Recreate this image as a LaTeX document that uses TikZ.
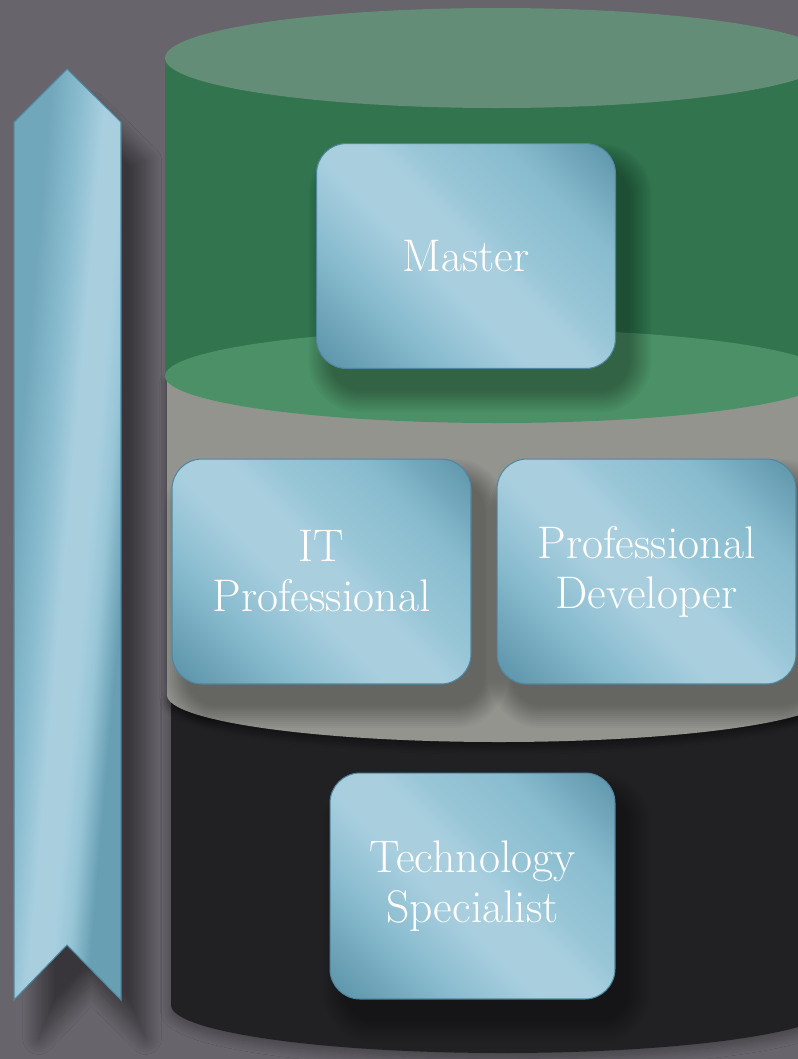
\documentclass[tikz,border=0pt]{standalone}
\usepackage{tikz}
\usetikzlibrary{shadows.blur}

\definecolor{bgcol}{HTML}{67646B}
\definecolor{greentop}{HTML}{648D77}
\definecolor{greenbody}{HTML}{31744E}
\definecolor{greenfloor}{HTML}{4B9066}
\definecolor{graybody}{HTML}{94948F}
\definecolor{blackbody}{HTML}{212124}
\definecolor{tiledark}{HTML}{5E95AA}
\definecolor{tilemid}{HTML}{89BCCF}
\definecolor{tilelight}{HTML}{A9CFDF}
\definecolor{tilestreak}{HTML}{98C6D7}
\definecolor{tileedge}{HTML}{4F87A0}

\pgfdeclarehorizontalshading{tileshade}{100bp}{color(0bp)=(tiledark); color(16bp)=(tiledark); color(32bp)=(tilemid); color(44bp)=(tilelight); color(52bp)=(tilelight); color(58bp)=(tilestreak); color(70bp)=(tilemid); color(85bp)=(tiledark); color(100bp)=(tiledark)}
\pgfdeclarehorizontalshading{ribbonshade}{100bp}{color(0bp)=(tiledark!55!tilemid); color(37bp)=(tiledark!55!tilemid); color(44bp)=(tilemid); color(50bp)=(tilelight); color(55bp)=(tilelight); color(59bp)=(tilestreak); color(64bp)=(tiledark!75!tilemid); color(100bp)=(tiledark!75!tilemid)}

\pgfdeclarelayer{back}
\pgfdeclarelayer{shade}
\pgfsetlayers{back,shade,main}

\begin{document}
\begin{tikzpicture}[x=0.02cm, y=-0.02cm,
  tile/.style={shading=tileshade, shading angle=45, draw=tileedge, line width=0.6pt,
    rounded corners=0.6cm, minimum width=5.98cm, minimum height=4.5cm, outer sep=0pt,
    text=white, align=center, font=\fontsize{26}{28.5}\selectfont}]
\useasboundingbox (0,0) rectangle (798,1059);

\begin{pgfonlayer}{back}
\fill[bgcol] (0,0) rectangle (798,1059);

% ribbon
\fill[black, blur shadow={shadow xshift=14pt, shadow yshift=-22pt, shadow blur radius=9pt,
    shadow blur steps=24, shadow opacity=45}]
  (14,122) -- (67,69) -- (121,122) -- (121,1000) -- (67,945) -- (14,1000) -- cycle;
\begin{scope}
  \clip (14,122) -- (67,69) -- (121,122) -- (121,1000) -- (67,945) -- (14,1000) -- cycle;
  \shade[shading=ribbonshade, transform canvas={rotate around={-5:(67,535)}}]
    (-40,20) rectangle (174,1050);
\end{scope}
\draw[tileedge, line width=0.6pt]
  (14,122) -- (67,69) -- (121,122) -- (121,1000) -- (67,945) -- (14,1000) -- cycle;

% black layer
\fill[blackbody, blur shadow={shadow xshift=0pt, shadow yshift=-3pt, shadow blur radius=6pt,
    shadow blur steps=16, shadow opacity=35}]
  (171,695) -- (171,1005) arc[start angle=180, end angle=360, x radius=332, y radius=-48] -- (835,695) -- cycle;

% gray layer
\fill[graybody, blur shadow={shadow xshift=0pt, shadow yshift=-3pt, shadow blur radius=4pt,
    shadow blur steps=16, shadow opacity=45}]
  (167,376) -- (167,695) arc[start angle=180, end angle=360, x radius=332, y radius=-47] -- (831,376) -- cycle;

% green layer
\fill[greenbody] (165,58) rectangle (829,376);
\fill[greenfloor] (497,376) ellipse [x radius=332, y radius=47];
\fill[greentop] (497,58) ellipse [x radius=332, y radius=50];
\end{pgfonlayer}

% levels
\node[tile] (master) at (466,256) {Master};
\node[tile] (itpro) at (321.5,571.5) {IT\\Professional};
\node[tile] (devpro) at (646.5,571.5) {Professional\\Developer};
\node[tile, minimum width=5.7cm, minimum height=4.52cm] (techspec) at (472.5,886) {Technology\\Specialist};

% soft shadows
\begin{pgfonlayer}{shade}
\foreach \tilename in {master,itpro,devpro,techspec}
  \foreach \k in {0,...,11} {
    \pgfmathsetmacro\rr{0.6+\k*0.04}
    \fill[black, opacity=0.028, rounded corners=\rr cm]
      ([xshift={0.28cm-\k*0.04cm}, yshift={-0.44cm-\k*0.04cm}]\tilename.south west)
      rectangle ([xshift={0.28cm+\k*0.04cm}, yshift={-0.44cm+\k*0.04cm}]\tilename.north east);
  }
\end{pgfonlayer}
\end{tikzpicture}
\end{document}
